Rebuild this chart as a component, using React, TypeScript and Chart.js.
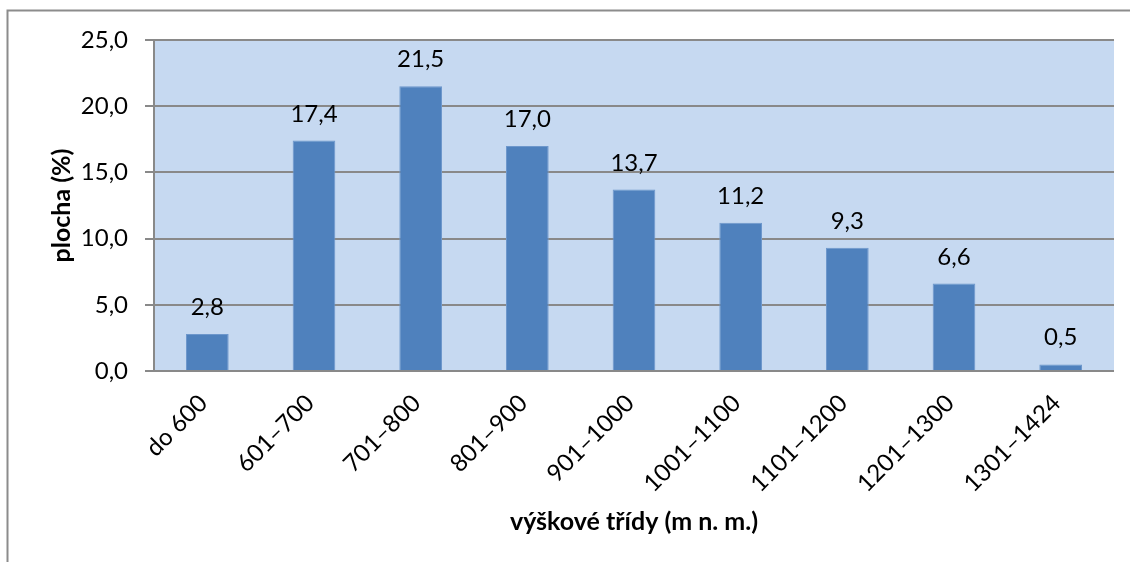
import React, { useEffect, useRef } from "react";
import { Chart, registerables } from "chart.js";

Chart.register(...registerables);

const categories = [
  "do 600",
  "601–700",
  "701–800",
  "801–900",
  "901–1000",
  "1001–1100",
  "1101–1200",
  "1201–1300",
  "1301–1424",
];
const areaPercent = [2.8, 17.4, 21.5, 17.0, 13.7, 11.2, 9.3, 6.6, 0.5];
const yTicks = [0, 5, 10, 15, 20, 25];
const xTitle = "výškové třídy (m n. m.)";
const yTitle = "plocha (%)";

const FONT = "Lato";
const FS = 24;
const GRID = "#898989";
const fmt = (v: number) => v.toFixed(1).replace(".", ",");

export default function App() {
  const ref = useRef<HTMLCanvasElement | null>(null);

  useEffect(() => {
    const canvas = ref.current;
    if (!canvas) return;

    const bgPlugin = {
      id: "bg",
      beforeDraw(chart: any) {
        const { ctx, chartArea } = chart;
        ctx.save();
        ctx.fillStyle = "#ffffff";
        ctx.fillRect(0, 0, chart.width, chart.height);
        ctx.fillStyle = "#c6d9f1";
        ctx.fillRect(chartArea.left, chartArea.top, chartArea.right - chartArea.left, chartArea.bottom - chartArea.top);
        ctx.restore();
      },
      afterDraw(chart: any) {
        const { ctx } = chart;
        ctx.save();
        ctx.strokeStyle = "#8c8c8c";
        ctx.lineWidth = 2;
        ctx.beginPath();
        ctx.moveTo(7.5, chart.height);
        ctx.lineTo(7.5, 10.5);
        ctx.lineTo(chart.width, 10.5);
        ctx.stroke();
        ctx.restore();
      },
    };

    const valueLabels = {
      id: "valueLabels",
      afterDatasetsDraw(chart: any) {
        const { ctx } = chart;
        const meta = chart.getDatasetMeta(0);
        ctx.save();
        ctx.font = `${FS}px ${FONT}`;
        ctx.fillStyle = "#000000";
        ctx.textAlign = "center";
        ctx.textBaseline = "alphabetic";
        meta.data.forEach((bar: any, i: number) => {
          ctx.fillText(fmt(areaPercent[i]), bar.x, bar.y - 19);
        });
        ctx.restore();
      },
    };

    const chart = new Chart(canvas, {
      type: "bar",
      data: {
        labels: categories,
        datasets: [
          {
            data: areaPercent,
            backgroundColor: "#4f81bd",
            borderColor: "#6d97cc",
            borderWidth: 1,
            barPercentage: 0.4,
            categoryPercentage: 1,
          },
        ],
      },
      options: {
        responsive: false,
        animation: false,
        layout: { padding: { top: 40, right: 16, left: 0, bottom: 0 } },
        plugins: {
          legend: { display: false },
          tooltip: { enabled: false },
        },
        scales: {
          x: {
            grid: { display: false, drawTicks: false },
            border: { display: false },
            ticks: {
              color: "#000000",
              font: { family: FONT, size: FS },
              minRotation: 45,
              maxRotation: 45,
              padding: 18,
              labelOffset: -4,
              autoSkip: false,
            },
            title: {
              display: true,
              text: xTitle,
              color: "#000000",
              font: { family: FONT, size: FS + 1, weight: "bold" },
              padding: { top: 0, bottom: 25 },
            },
            afterFit(scale: any) {
              scale.height = 191;
            },
          },
          y: {
            min: yTicks[0],
            max: yTicks[yTicks.length - 1],
            grid: { color: GRID, lineWidth: 2, tickLength: 9, drawTicks: true },
            border: { color: GRID, width: 2 },
            ticks: {
              stepSize: yTicks[1] - yTicks[0],
              color: "#000000",
              font: { family: FONT, size: FS },
              padding: 17,
              callback: (v: any) => fmt(Number(v)),
            },
            title: {
              display: true,
              text: yTitle,
              color: "#000000",
              font: { family: FONT, size: FS + 1, weight: "bold" },
              padding: { top: 47, bottom: 0 },
            },
            afterFit(scale: any) {
              scale.width = 154;
            },
          },
        },
      },
      plugins: [bgPlugin, valueLabels],
    });

    return () => chart.destroy();
  }, []);

  return (
    <div style={{ position: "absolute", left: 0, top: 0, width: 1130, height: 562 }}>
      <canvas ref={ref} width={1130} height={562} style={{ display: "block", width: 1130, height: 562 }} />
    </div>
  );
}
